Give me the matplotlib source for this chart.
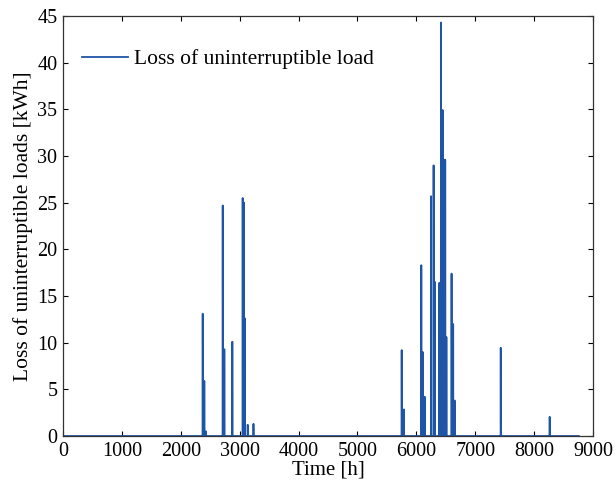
import numpy as np
import matplotlib
matplotlib.use('Agg')
import matplotlib.pyplot as plt

# hourly loss of uninterruptible load over one year (8760 h), zero except these hours
n_hours = 8760
event_hours = [2372, 2399, 2428, 2712, 2739, 2875, 3051, 3073, 3090, 3136, 3234,
               5751, 5790, 6084, 6108, 6142, 6249, 6293, 6305, 6316,
               6388, 6400, 6417, 6436, 6450, 6462, 6476, 6490, 6500, 6510,
               6598, 6625, 6651, 7433, 8264]
event_values = [13.1, 5.9, 0.5, 24.7, 9.3, 10.1, 25.5, 25.0, 12.6, 1.2, 1.3,
                9.2, 2.85, 18.3, 9.0, 4.2, 25.7, 29.0, 16.5, 16.5,
                16.4, 16.4, 44.3, 34.9, 34.9, 29.6, 29.6, 29.6, 10.6, 10.6,
                17.4, 12.0, 3.8, 9.45, 2.05]

loss = np.zeros(n_hours)
loss[event_hours] = event_values
hours = np.arange(n_hours)

plt.rcParams['font.family'] = ['Liberation Serif', 'DejaVu Serif']

fig = plt.figure(figsize=(6.16, 4.87), dpi=100)
ax = fig.add_axes([0.1023, 0.1047, 0.8604, 0.8624])
ax.plot(hours, loss, color='#1f55a6', lw=1.3, label='Loss of uninterruptible load')

ax.set_xlim(0, 9000)
ax.set_ylim(0, 45)
ax.set_xticks(np.arange(0, 9001, 1000))
ax.set_yticks(np.arange(0, 46, 5))
ax.set_xlabel('Time [h]', fontsize=15, labelpad=0)
ax.set_ylabel('Loss of uninterruptible loads [kWh]', fontsize=15.5, labelpad=3)
ax.tick_params(direction='in', top=True, right=True, length=3.8, width=0.8,
               labelsize=14.5, pad=4)
for s in ax.spines.values():
    s.set_color('#333333')
    s.set_linewidth(0.9)

ax.legend(loc='upper left', bbox_to_anchor=(0.036, 0.921), frameon=False,
          handlelength=2.15, handletextpad=0.25, borderpad=0, borderaxespad=0,
          fontsize=15.5)

fig.savefig('out.png', dpi=100)
